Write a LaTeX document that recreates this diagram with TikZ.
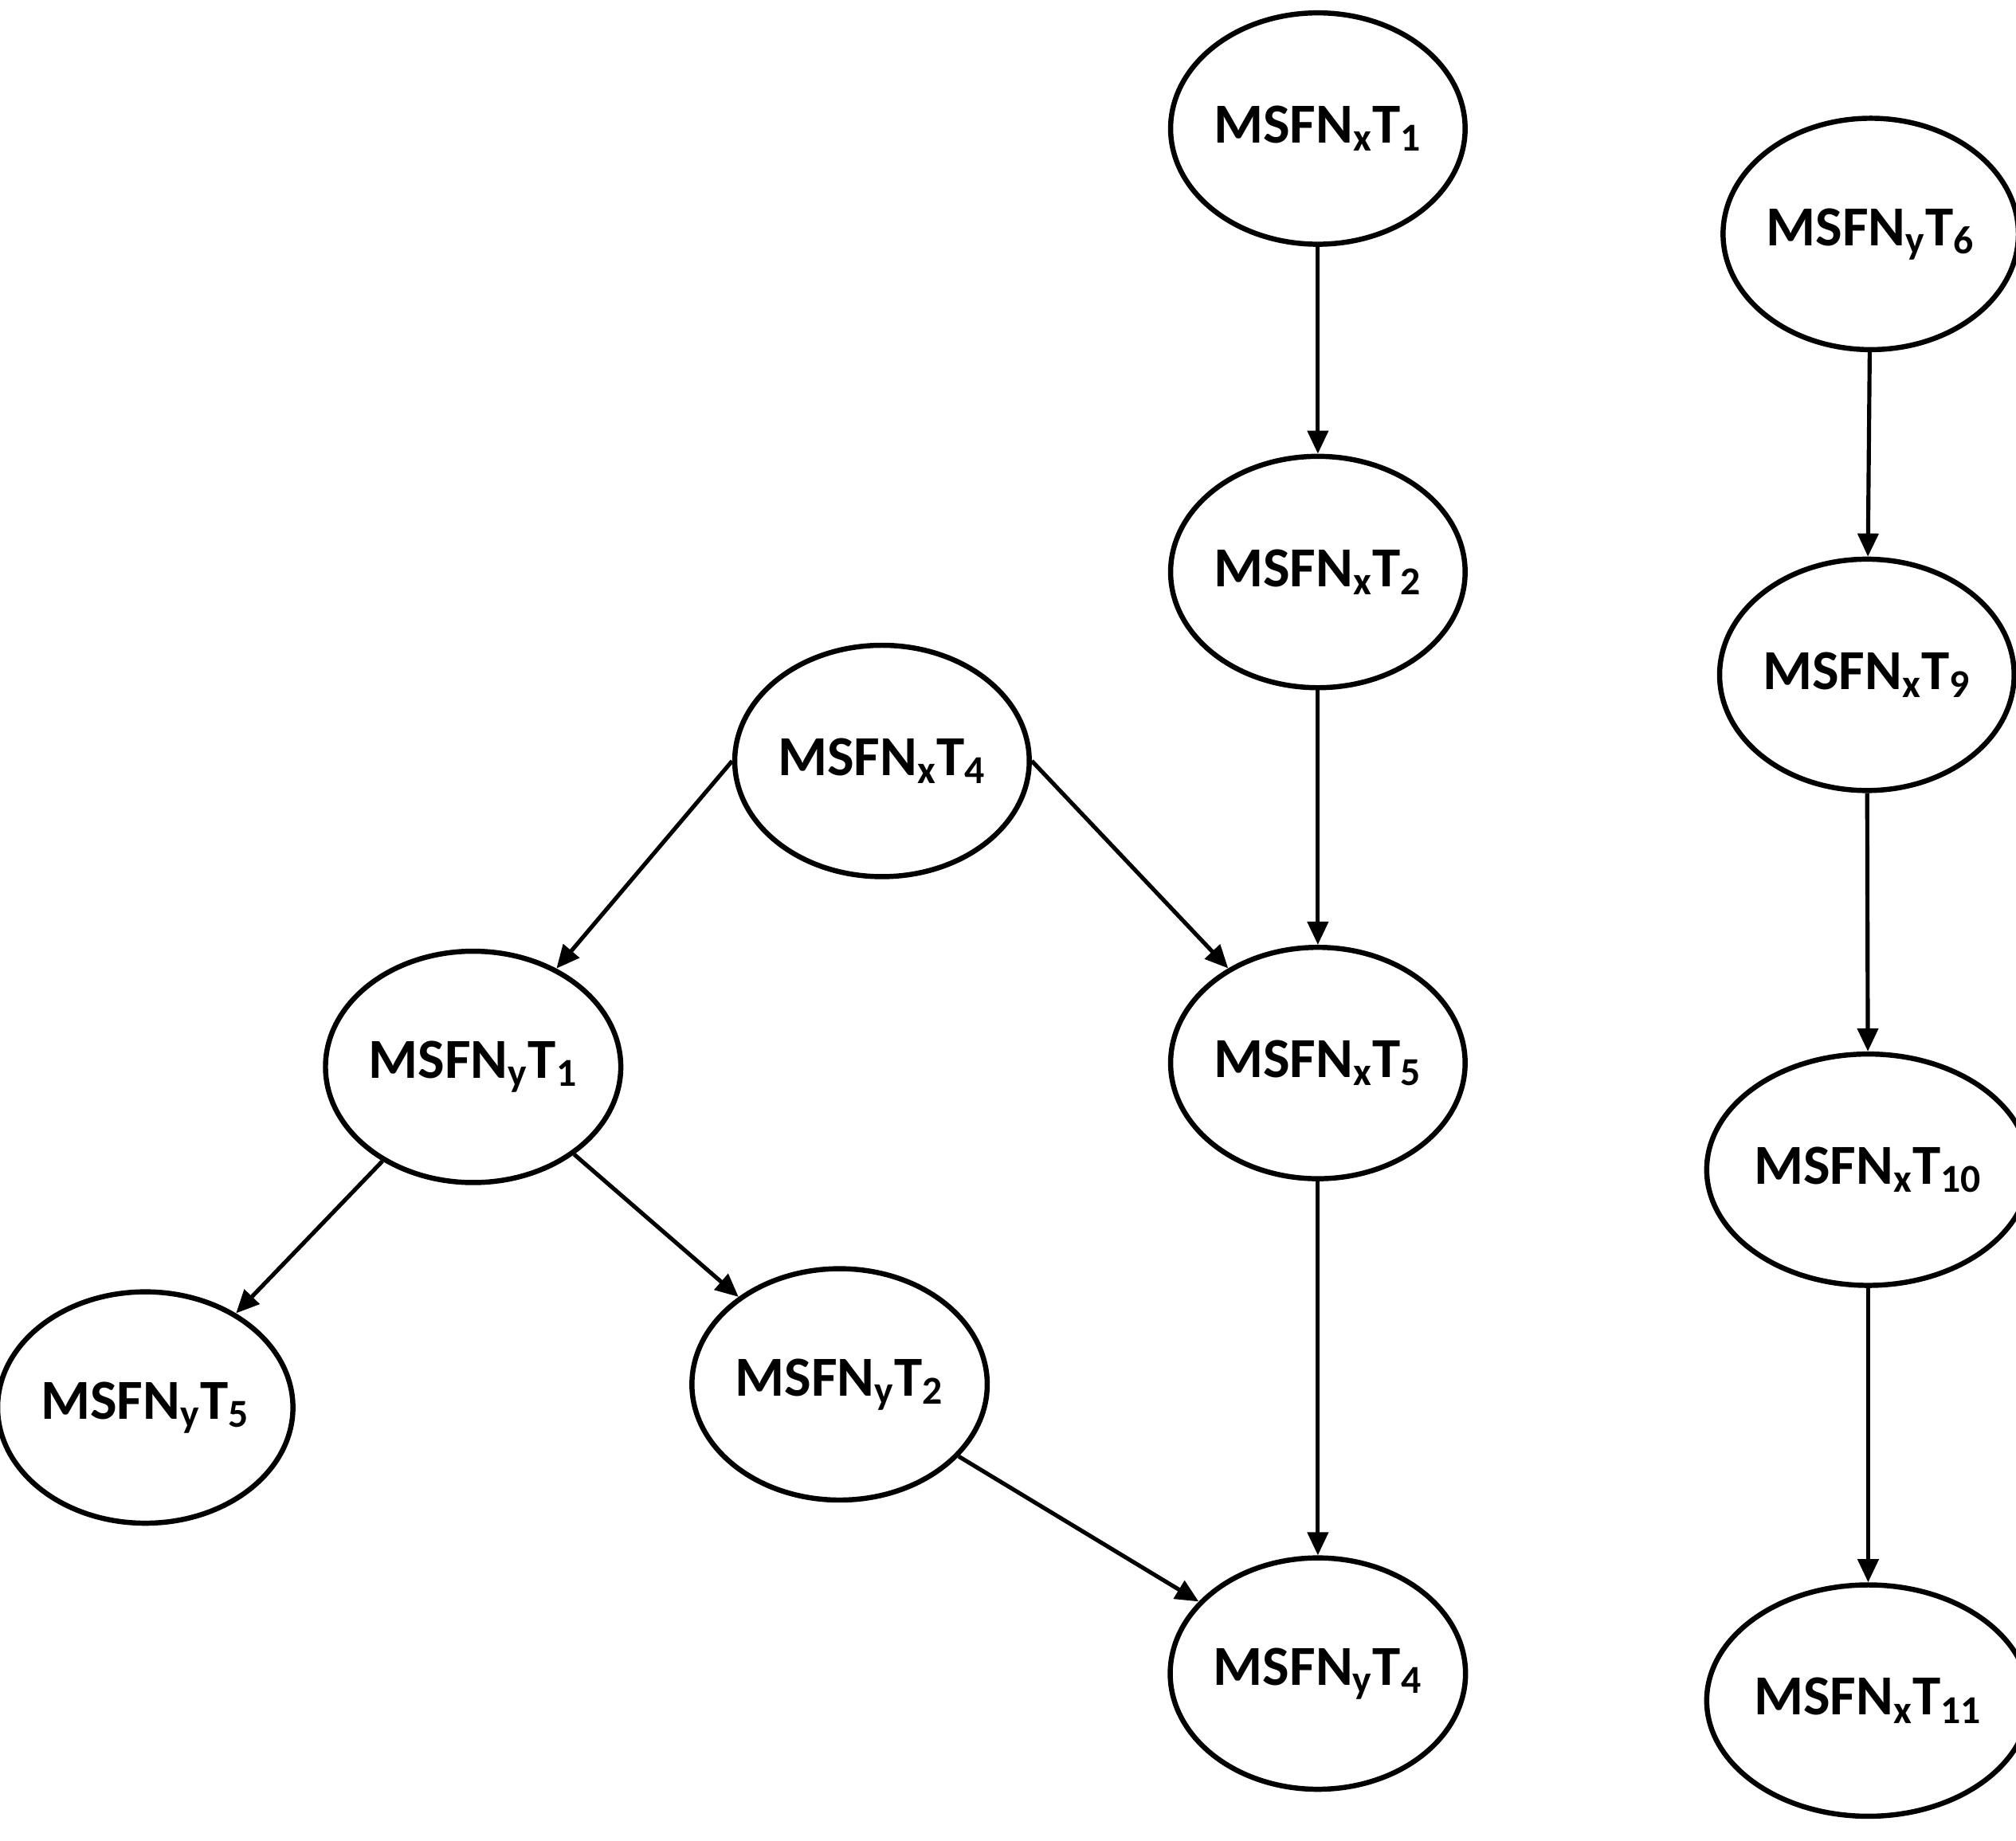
\documentclass[tikz,border=0pt]{standalone}
\usepackage{fontspec}
\setmainfont{Carlito}
\usetikzlibrary{shapes.geometric,arrows.meta}
\newcommand{\lab}[3]{\textbf{MSFN\textsubscript{#1}T\textsubscript{#2}#3}}
\begin{document}
\begin{tikzpicture}[x=0.5pt,y=-0.5pt,
  st/.style={ellipse,draw,line width=2pt,minimum width=96pt,minimum height=90pt,inner sep=0pt,font=\fontsize{22}{24}\selectfont},
  ar/.style={-{Triangle[length=9pt,width=8pt]},line width=1.6pt}]
\useasboundingbox (0,0) rectangle (1568,1432);
\node[st] (x1) at (1025,100) {\lab{x}{1}{}};
\node[st] (x2) at (1025,445) {\lab{x}{2}{}};
\node[st] (x4) at (686,592) {\lab{x}{4}{}};
\node[st] (x5) at (1025,827) {\lab{x}{5}{}};
\node[st] (y1) at (368,830) {\lab{y}{1}{}};
\node[st] (y5) at (113,1095) {\lab{y}{5}{}};
\node[st] (y2) at (653,1077) {\lab{y}{2}{}};
\node[st] (y4) at (1025,1302) {\lab{y}{4}{}};
\node[st] (y6) at (1455,182) {\lab{y}{6}{}};
\node[st] (x9) at (1452,525) {\lab{x}{9}{}};
\node[st] (x10) at (1453,910) {\lab{x}{10}{}};
\node[st] (x11) at (1453,1323) {\lab{x}{11}{}};
\draw[ar] (x1) -- (x2);
\draw[ar] (x2) -- (x5);
\draw[ar] (x5) -- (y4);
\draw[ar] (x4.west) -- (y1);
\draw[ar] (x4.east) -- (x5);
\draw[ar] (y1) -- (y5);
\draw[ar] (y1) -- (y2);
\draw[ar] (y2) -- (y4);
\draw[ar] (y6) -- (x9);
\draw[ar] (x9) -- (x10);
\draw[ar] (x10) -- (x11);
\end{tikzpicture}
\end{document}
